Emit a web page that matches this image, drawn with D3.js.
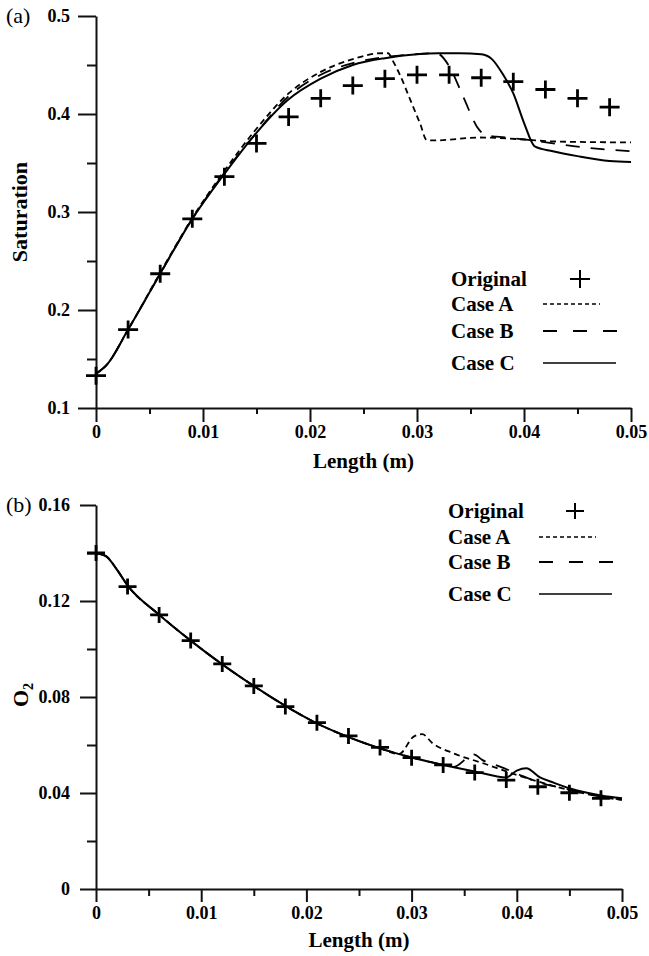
<!DOCTYPE html>
<html>
<head>
<meta charset="utf-8">
<script src="https://cdn.jsdelivr.net/npm/d3@7"></script>
<style>
  body { margin: 0; background: #fff; }
  svg { display: block; }
  text { font-family: "Liberation Serif", "Times New Roman", serif; fill: #000; }
</style>
</head>
<body>
<svg id="chart" width="649" height="956"></svg>
<script>
// ---------- Panel (a): saturation along the length ----------
const satOrigX = [0, 0.003, 0.006, 0.009, 0.012, 0.015, 0.018, 0.021, 0.024, 0.027, 0.030, 0.033, 0.036, 0.039, 0.042, 0.045, 0.048];
const satOrig  = [0.133, 0.180, 0.237, 0.293, 0.336, 0.370, 0.397, 0.416, 0.429, 0.436, 0.440, 0.440, 0.437, 0.433, 0.425, 0.416, 0.407];

const satAX = [0, 0.001, 0.003, 0.006, 0.009, 0.012, 0.015, 0.018, 0.021, 0.024, 0.0267, 0.0273, 0.0277, 0.0284, 0.0295, 0.0303, 0.0309, 0.0315, 0.0359, 0.040, 0.0427, 0.050];
const satA  = [0.135, 0.144, 0.180, 0.238, 0.294, 0.342, 0.385, 0.421, 0.443, 0.456, 0.462, 0.462, 0.455, 0.440, 0.411, 0.390, 0.3735, 0.373, 0.376, 0.374, 0.372, 0.371];

const satBX = [0, 0.001, 0.003, 0.006, 0.009, 0.012, 0.015, 0.018, 0.021, 0.024, 0.027, 0.030, 0.0318, 0.0331, 0.0343, 0.0358, 0.0365, 0.0374, 0.040, 0.0455, 0.050];
const satB  = [0.135, 0.144, 0.180, 0.237, 0.293, 0.340, 0.381, 0.418, 0.440, 0.452, 0.458, 0.461, 0.462, 0.447, 0.418, 0.384, 0.378, 0.377, 0.374, 0.366, 0.362];

const satCX = [0, 0.001, 0.003, 0.006, 0.009, 0.012, 0.0147, 0.0179, 0.021, 0.024, 0.027, 0.030, 0.032, 0.034, 0.036, 0.037, 0.038, 0.039, 0.040, 0.041, 0.0427, 0.045, 0.048, 0.050];
const satC  = [0.135, 0.144, 0.180, 0.237, 0.293, 0.339, 0.377, 0.414, 0.436, 0.450, 0.457, 0.461, 0.462, 0.462, 0.461, 0.456, 0.441, 0.421, 0.391, 0.367, 0.362, 0.357, 0.352, 0.351];

// ---------- Panel (b): O2 along the length ----------
const o2OrigX = [0, 0.003, 0.006, 0.009, 0.012, 0.015, 0.018, 0.021, 0.024, 0.027, 0.030, 0.033, 0.036, 0.039, 0.042, 0.045, 0.048];
const o2Orig  = [0.140, 0.126, 0.1142, 0.1035, 0.0938, 0.0846, 0.0760, 0.0693, 0.0638, 0.0590, 0.0547, 0.0517, 0.0485, 0.0454, 0.0426, 0.0401, 0.0378];

const o2AX = [0, 0.001, 0.002, 0.003, 0.006, 0.009, 0.012, 0.015, 0.018, 0.021, 0.024, 0.027, 0.0288, 0.0302, 0.031, 0.032, 0.034, 0.0368, 0.040, 0.0432, 0.0479, 0.050];
const o2A  = [0.140, 0.1385, 0.133, 0.1265, 0.1143, 0.1035, 0.0936, 0.0846, 0.0763, 0.0690, 0.0633, 0.0586, 0.0562, 0.0635, 0.0645, 0.0607, 0.0565, 0.0524, 0.0475, 0.0433, 0.0385, 0.0371];

const o2BX = [0, 0.001, 0.002, 0.003, 0.006, 0.009, 0.012, 0.015, 0.018, 0.021, 0.024, 0.027, 0.030, 0.033, 0.034, 0.0359, 0.0367, 0.0384, 0.0403, 0.0415, 0.045, 0.048, 0.050];
const o2B  = [0.140, 0.1385, 0.133, 0.1265, 0.1143, 0.1035, 0.0936, 0.0846, 0.0763, 0.0690, 0.0633, 0.0586, 0.0548, 0.0517, 0.0509, 0.0561, 0.0538, 0.0510, 0.0475, 0.0454, 0.0413, 0.0384, 0.0372];

const o2CX = [0, 0.001, 0.002, 0.003, 0.006, 0.009, 0.012, 0.015, 0.018, 0.021, 0.024, 0.027, 0.030, 0.033, 0.036, 0.039, 0.040, 0.0409, 0.0422, 0.0435, 0.045, 0.048, 0.050];
const o2C  = [0.140, 0.1385, 0.133, 0.1265, 0.1143, 0.1035, 0.0936, 0.0846, 0.0763, 0.0690, 0.0633, 0.0586, 0.0548, 0.0517, 0.0490, 0.0465, 0.0493, 0.0503, 0.0465, 0.0443, 0.0420, 0.0390, 0.0378];

// ---------- tick labels ----------
const xTicks = [0, 0.01, 0.02, 0.03, 0.04, 0.05];
const xTickLabels = ["0", "0.01", "0.02", "0.03", "0.04", "0.05"];
const satTicks = [0.1, 0.2, 0.3, 0.4, 0.5];
const satTickLabels = ["0.1", "0.2", "0.3", "0.4", "0.5"];
const o2Ticks = [0, 0.04, 0.08, 0.12, 0.16];
const o2TickLabels = ["0", "0.04", "0.08", "0.12", "0.16"];
const legendNames = ["Original", "Case A", "Case B", "Case C"];

const svg = d3.select("#chart");

const styles = {
  A: { dash: "6,4", width: 1.8 },
  B: { dash: "14,11", width: 1.8 },
  C: { dash: null, width: 2 }
};

function drawPanel(cfg) {
  const g = svg.append("g");
  const x = d3.scaleLinear().domain([0, 0.05]).range([cfg.x0, cfg.x1]);
  const y = d3.scaleLinear().domain(cfg.yDomain).range([cfg.yBottom, cfg.yTop]);

  // minor ticks
  const minorX = d3.range(0.005, 0.05, 0.01);
  g.append("g").attr("transform", `translate(0,${cfg.yBottom})`)
    .call(d3.axisBottom(x).tickValues(minorX).tickSize(cfg.xMinor).tickFormat(""))
    .call(a => a.select(".domain").remove());
  g.append("g").attr("transform", `translate(${cfg.x0},0)`)
    .call(d3.axisLeft(y).tickValues(cfg.yMinorTicks).tickSize(cfg.yMinor).tickFormat(""))
    .call(a => a.select(".domain").remove());

  // major ticks + axis lines
  const ax = g.append("g").attr("transform", `translate(0,${cfg.yBottom})`)
    .call(d3.axisBottom(x).tickValues(xTicks).tickSizeInner(cfg.xMajor).tickSizeOuter(0)
      .tickFormat((d, i) => xTickLabels[i]));
  ax.selectAll("text").attr("y", cfg.xLabelOff).attr("dy", null);
  const ay = g.append("g").attr("transform", `translate(${cfg.x0},0)`)
    .call(d3.axisLeft(y).tickValues(cfg.yTicks).tickSizeInner(cfg.yMajor).tickSizeOuter(0)
      .tickFormat((d, i) => cfg.yTickLabels[i]));
  ay.selectAll("text").attr("x", -26);

  g.selectAll(".tick line, .domain").attr("stroke", "#111").attr("stroke-width", 2);
  g.selectAll(".tick text").attr("font-size", 18).attr("font-weight", "bold")
    .attr("font-family", '"Liberation Serif", serif').attr("fill", "#000");

  // curves
  const line = d3.line().x(d => x(d[0])).y(d => y(d[1])).curve(d3.curveMonotoneX);
  cfg.series.forEach(s => {
    const st = styles[s.key];
    g.append("path")
      .datum(s.xs.map((v, i) => [v, s.ys[i]]))
      .attr("d", line)
      .attr("fill", "none")
      .attr("stroke", "#000")
      .attr("stroke-width", st.width)
      .attr("stroke-dasharray", st.dash);
  });

  // plus markers
  const plus = `M${-cfg.plusW},0H${cfg.plusW}M0,${-cfg.plusH}V${cfg.plusH}`;
  g.selectAll("path.plus").data(cfg.origX.map((v, i) => [v, cfg.orig[i]]))
    .enter().append("path").attr("class", "plus")
    .attr("transform", d => `translate(${x(d[0])},${y(d[1])})`)
    .attr("d", plus).attr("stroke", "#000").attr("stroke-width", 2.8).attr("fill", "none");

  // panel tag
  g.append("text").attr("x", 6).attr("y", cfg.yTop + 7).attr("font-size", 22).text(cfg.tag);

  // axis titles
  g.append("text").attr("x", (cfg.x0 + cfg.x1) / 2).attr("y", cfg.lengthY)
    .attr("text-anchor", "middle").attr("font-size", 21).attr("font-weight", "bold")
    .text("Length (m)");
  const yt = g.append("text")
    .attr("transform", `translate(${cfg.yTitleX},${cfg.yTitleY}) rotate(-90)`)
    .attr("text-anchor", "middle").attr("font-size", 22).attr("font-weight", "bold");
  cfg.yTitle(yt);

  // legend
  const L = cfg.legend;
  const lg = g.append("g");
  legendNames.forEach((name, i) => {
    lg.append("text").attr("x", L.x).attr("y", L.rows[i] + 7)
      .attr("font-size", 21).attr("font-weight", "bold").text(name);
  });
  lg.append("path").attr("transform", `translate(${L.plusX},${L.rows[0]})`)
    .attr("d", plus).attr("stroke", "#000").attr("stroke-width", 2).attr("fill", "none");
  lg.append("line").attr("x1", L.s0).attr("x2", L.s0 + 57).attr("y1", L.rows[1]).attr("y2", L.rows[1])
    .attr("stroke", "#000").attr("stroke-width", 1.6).attr("stroke-dasharray", "4,3");
  lg.append("line").attr("x1", L.s0).attr("x2", L.s0 + 75).attr("y1", L.rows[2]).attr("y2", L.rows[2])
    .attr("stroke", "#000").attr("stroke-width", 1.8).attr("stroke-dasharray", "14,16");
  lg.append("line").attr("x1", L.s0).attr("x2", L.s0 + 73).attr("y1", L.rows[3]).attr("y2", L.rows[3])
    .attr("stroke", "#000").attr("stroke-width", 1.5);
}

drawPanel({
  tag: "(a)",
  x0: 96, x1: 631, yTop: 16, yBottom: 408, yDomain: [0.1, 0.5],
  yTicks: satTicks, yTickLabels: satTickLabels, yMinorTicks: [0.15, 0.25, 0.35, 0.45],
  xMajor: 14, xMinor: 6, yMajor: 18, yMinor: 9, xLabelOff: 30,
  lengthY: 468, yTitleX: 27, yTitleY: 212,
  yTitle: t => t.text("Saturation"),
  origX: satOrigX, orig: satOrig, plusW: 10, plusH: 9,
  series: [
    { key: "A", xs: satAX, ys: satA },
    { key: "B", xs: satBX, ys: satB },
    { key: "C", xs: satCX, ys: satC }
  ],
  legend: { x: 451, rows: [279, 304, 331, 363], plusX: 580, s0: 543 }
});

drawPanel({
  tag: "(b)",
  x0: 96, x1: 622, yTop: 505, yBottom: 889, yDomain: [0, 0.16],
  yTicks: o2Ticks, yTickLabels: o2TickLabels, yMinorTicks: [0.02, 0.06, 0.10, 0.14],
  xMajor: 13, xMinor: 7, yMajor: 16, yMinor: 9, xLabelOff: 30,
  lengthY: 947, yTitleX: 28, yTitleY: 695,
  yTitle: t => { t.append("tspan").text("O"); t.append("tspan").attr("font-size", 14).attr("dy", 5).text("2"); },
  origX: o2OrigX, orig: o2Orig, plusW: 9, plusH: 8,
  series: [
    { key: "A", xs: o2AX, ys: o2A },
    { key: "B", xs: o2BX, ys: o2B },
    { key: "C", xs: o2CX, ys: o2C }
  ],
  legend: { x: 448, rows: [511, 537, 562, 594], plusX: 575, s0: 539 }
});
</script>
</body>
</html>
